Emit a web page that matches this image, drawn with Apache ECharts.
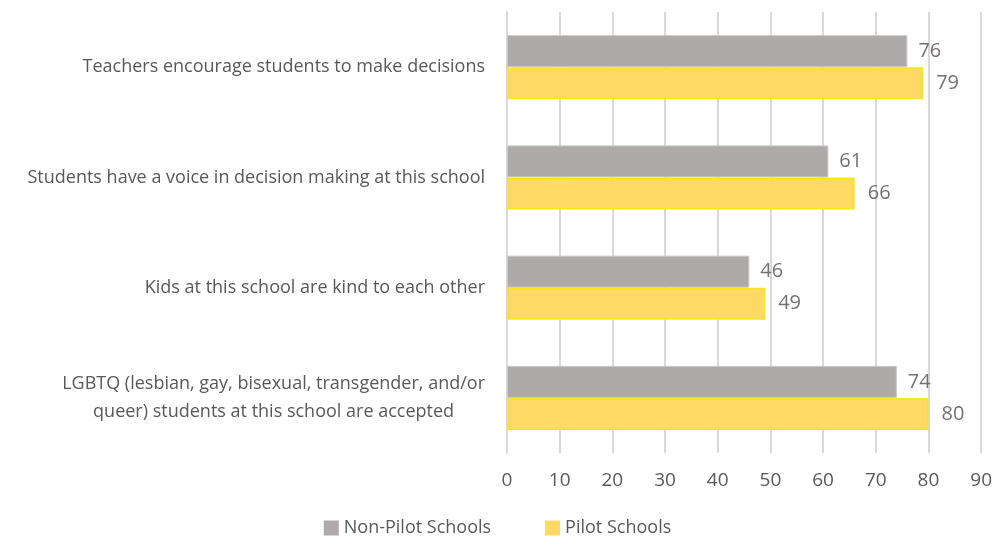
<!DOCTYPE html>
<html>
<head>
<meta charset="utf-8">
<script src="https://cdn.jsdelivr.net/npm/echarts@6/dist/echarts.min.js"></script>
<style>
  html, body { margin: 0; padding: 0; background: #fff; }
  #chart { width: 995px; height: 537px; }
</style>
</head>
<body>
<div id="chart"></div>
<script>
// top to bottom as shown in the picture
const categories = [
  'Teachers encourage students to make decisions',
  'Students have a voice in decision making at this school',
  'Kids at this school are kind to each other',
  'LGBTQ (lesbian, gay, bisexual, transgender, and/or\nqueer) students at this school are accepted'
];
const nonPilot = [76, 61, 46, 74];
const pilot = [79, 66, 49, 80];
const xTicks = [0, 10, 20, 30, 40, 50, 60, 70, 80, 90];

const chart = echarts.init(document.getElementById('chart'));
const font = 'Open Sans, sans-serif';

chart.setOption({
  animation: false,
  textStyle: { fontFamily: font },
  grid: { left: 507, right: 13, top: 12, bottom: 84 },
  legend: {
    bottom: -5,
    left: 'center',
    itemWidth: 15,
    itemHeight: 15,
    itemGap: 54,
    icon: 'rect',
    itemStyle: { borderWidth: 0 },
    textStyle: { color: '#595959', fontSize: 18, fontFamily: font },
    data: ['Non-Pilot Schools', 'Pilot Schools']
  },
  xAxis: {
    type: 'value',
    min: xTicks[0],
    max: xTicks[xTicks.length - 1],
    interval: 10,
    axisLine: { show: false },
    axisTick: { show: false },
    splitLine: { lineStyle: { color: '#d9d9d9', width: 2 } },
    axisLabel: { color: '#595959', fontSize: 19, margin: 18 }
  },
  yAxis: {
    type: 'category',
    inverse: true,
    data: categories,
    axisTick: { show: false },
    axisLine: { lineStyle: { color: '#d9d9d9', width: 2 } },
    axisLabel: {
      margin: 22,
      align: 'right',
      formatter: function (v) {
        return v.split('\n').map(s => '{a|' + s + '}').join('\n');
      },
      rich: {
        a: { align: 'center', color: '#595959', fontSize: 18, lineHeight: 28, fontFamily: font }
      }
    }
  },
  series: [
    {
      name: 'Non-Pilot Schools',
      type: 'bar',
      data: nonPilot,
      barWidth: 32,
      barGap: '0%',
      itemStyle: { color: '#aeaaaa', borderColor: '#c9c6c6', borderWidth: 1 },
      label: { show: true, position: 'right', distance: 11, color: '#767171', fontSize: 20 }
    },
    {
      name: 'Pilot Schools',
      type: 'bar',
      data: pilot,
      barWidth: 32,
      itemStyle: { color: '#ffd966', borderColor: '#f5e812', borderWidth: 1.5 },
      label: { show: true, position: 'right', distance: 13, color: '#767171', fontSize: 20 }
    }
  ]
});
</script>
</body>
</html>
